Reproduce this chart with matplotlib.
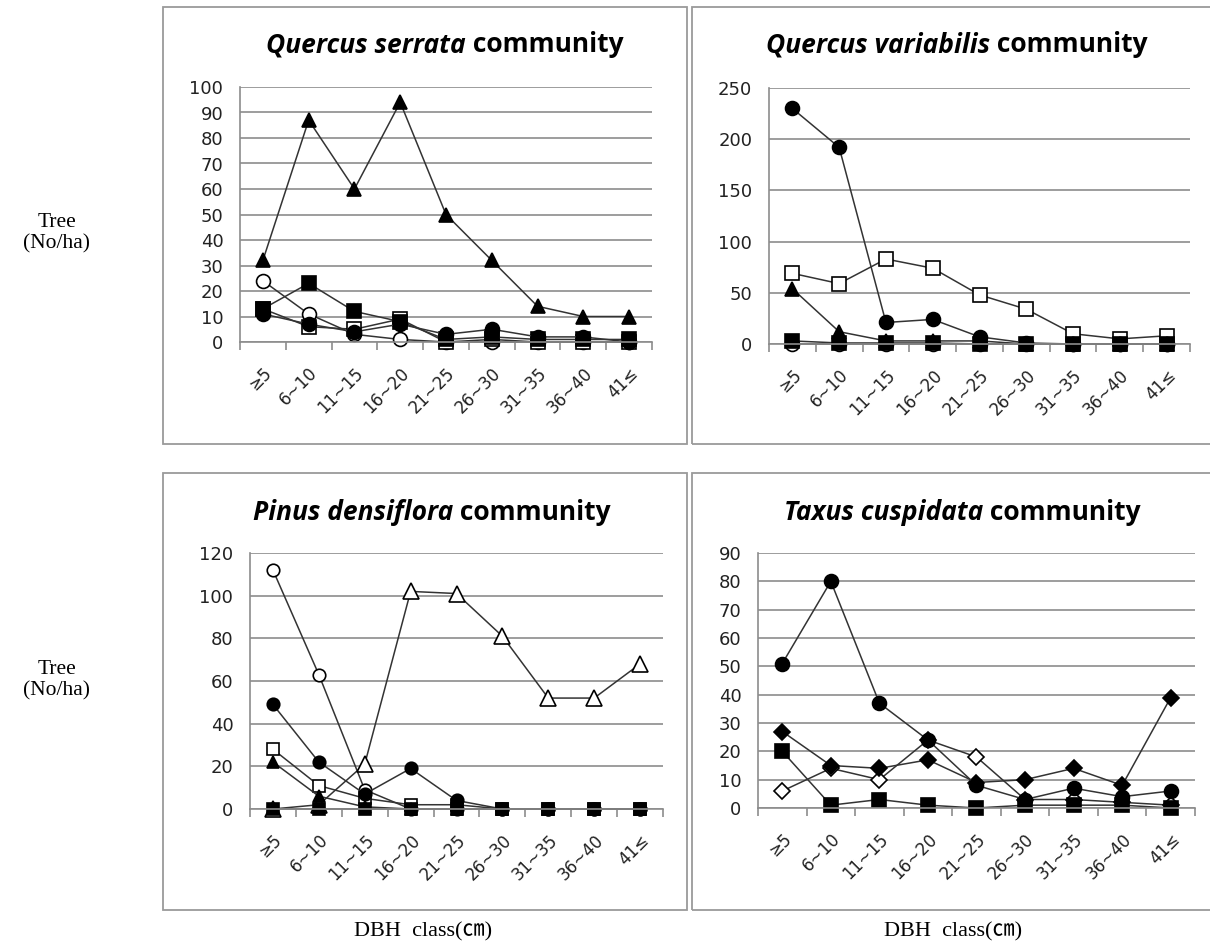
import matplotlib.pyplot as plt
from matplotlib.patches import Rectangle

classes = ['≥5', '6~10', '11~15', '16~20', '21~25', '26~30', '31~35', '36~40', '41≤']

# Quercus serrata community
qs_tri_fill = [32, 87, 60, 94, 50, 32, 14, 10, 10]
qs_circ_open = [24, 11, 3, 1, 0, 0, 0, 0, 0]
qs_sq_open = [13, 6, 5, 9, 0, 1, 0, 0, 0]
qs_sq_fill = [13, 23, 12, 8, 1, 2, 1, 1, 1]
qs_circ_fill = [11, 7, 4, 7, 3, 5, 2, 2, 0]

# Quercus variabilis community
qv_circ_open = [0, 0, 0, 0, 0, 0, 0, 0, 0]
qv_sq_open = [69, 59, 83, 74, 48, 34, 10, 5, 8]
qv_tri_fill = [54, 12, 3, 3, 3, 0, 0, 0, 0]
qv_sq_fill = [3, 1, 1, 1, 0, 0, 0, 0, 0]
qv_circ_fill = [230, 192, 21, 24, 7, 1, 0, 0, 0]

# Pinus densiflora community
pd_circ_open = [112, 63, 9, 0, 0, 0, 0, 0, 0]
pd_tri_open = [0, 2, 21, 102, 101, 81, 52, 52, 68]
pd_sq_open = [28, 11, 5, 2, 2, 0, 0, 0, 0]
pd_tri_fill = [22, 6, 1, 0, 0, 0, 0, 0, 0]
pd_circ_fill = [49, 22, 7, 19, 4, 0, 0, 0, 0]
pd_sq_fill = [0, 0, 0, 0, 0, 0, 0, 0, 0]

# Taxus cuspidata community
tc_dia_open = [6, 14, 10, 24, 18, 3, 3, 2, 1]
tc_dia_fill = [27, 15, 14, 17, 9, 10, 14, 8, 39]
tc_sq_fill = [20, 1, 3, 1, 0, 1, 1, 1, 0]
tc_circ_fill = [51, 80, 37, 24, 8, 3, 7, 4, 6]

x = list(range(1, len(classes) + 1))
LINE = '#333333'
GRID = '#8c8c8c'
W, H = 1210, 947

fig = plt.figure(figsize=(12.1, 9.47), dpi=100)
renderer = fig.canvas.get_renderer()

# gray boxes round each chart (Excel chart area)
for (x0, y0, x1, y1) in [(163, 7, 687, 444), (692, 7, 1215, 444),
                         (163, 473, 687, 910), (692, 473, 1215, 910)]:
    fig.add_artist(Rectangle((x0 / W, 1 - y1 / H), (x1 - x0) / W, (y1 - y0) / H,
                             transform=fig.transFigure, fill=False, edgecolor='#9a9a9a', lw=1.3))


def title(species, cx, cy):
    # italic species name + plain " community", centred together
    t1 = fig.text(0, 1 - cy / H, species, ha='left', va='center', fontsize=19,
                  fontweight='bold', style='italic', family='Open Sans')
    t2 = fig.text(0, 1 - cy / H, ' community', ha='left', va='center', fontsize=19,
                  fontweight='bold', family='Open Sans')
    w1 = t1.get_window_extent(renderer).width
    w2 = t2.get_window_extent(renderer).width
    left = cx - (w1 + w2) / 2
    t1.set_x(left / W)
    t2.set_x((left + w1) / W)


def series(ax, vals, marker, filled, ms=10):
    ax.plot(x, vals, color=LINE, lw=1.1, marker=marker, ms=ms,
            markerfacecolor='black' if filled else 'white',
            markeredgecolor='black', markeredgewidth=1.2, clip_on=False)


def setup(ax, top, step):
    ax.set_xlim(0.5, 9.5)
    ax.set_ylim(0, top)
    ax.set_yticks(range(0, top + 1, step))
    ax.yaxis.grid(True, color=GRID, lw=1.2)
    ax.set_axisbelow(True)
    for s in ['top', 'right']:
        ax.spines[s].set_visible(False)
    for s in ['left', 'bottom']:
        ax.spines[s].set_color(GRID)
        ax.spines[s].set_linewidth(1.2)
    ax.set_xticks(x)
    ax.set_xticklabels(classes, rotation=45, ha='right', va='top', rotation_mode='anchor',
                       fontsize=12, color='#222222')
    ax.set_xticks([i + 0.5 for i in range(0, 10)], minor=True)
    ax.tick_params(axis='x', which='major', length=0, pad=16)
    ax.tick_params(axis='x', which='minor', length=6, color=GRID, width=1.2)
    ax.tick_params(axis='y', length=0, pad=12, labelsize=13, labelcolor='#222222')


ax1 = fig.add_axes([240 / W, 1 - 342 / H, 412 / W, 255 / H])
setup(ax1, 100, 10)
title('Quercus serrata', 445, 45)
series(ax1, qs_tri_fill, '^', True)
series(ax1, qs_circ_open, 'o', False)
series(ax1, qs_sq_open, 's', False)
series(ax1, qs_sq_fill, 's', True)
series(ax1, qs_circ_fill, 'o', True)

ax2 = fig.add_axes([769 / W, 1 - 344 / H, 421 / W, 256 / H])
setup(ax2, 250, 50)
title('Quercus variabilis', 957, 45)
series(ax2, qv_circ_open, 'o', False)
series(ax2, qv_sq_open, 's', False)
series(ax2, qv_tri_fill, '^', True)
series(ax2, qv_sq_fill, 's', True)
series(ax2, qv_circ_fill, 'o', True)

ax3 = fig.add_axes([250 / W, 1 - 809 / H, 413 / W, 256 / H])
setup(ax3, 120, 20)
title('Pinus densiflora', 432, 513)
series(ax3, pd_circ_open, 'o', False, 9)
series(ax3, pd_tri_open, '^', False, 11)
series(ax3, pd_sq_open, 's', False, 9)
series(ax3, pd_tri_fill, '^', True, 9)
series(ax3, pd_circ_fill, 'o', True, 9)
series(ax3, pd_sq_fill, 's', True, 9)

ax4 = fig.add_axes([758 / W, 1 - 808 / H, 437 / W, 255 / H])
setup(ax4, 90, 10)
title('Taxus cuspidata', 962, 513)
series(ax4, tc_dia_open, 'D', False, 8)
series(ax4, tc_dia_fill, 'D', True, 8)
series(ax4, tc_sq_fill, 's', True, 10)
series(ax4, tc_circ_fill, 'o', True, 10)

# side and bottom labels
for cy in [233, 680]:
    fig.text(57 / W, 1 - cy / H, 'Tree\n(No/ha)', ha='center', va='center',
             fontsize=15.5, family='Liberation Serif', linespacing=1.15)
for cx in [423, 953]:
    fig.text(cx / W, 1 - 932 / H, 'DBH  class(㎝)', ha='center', va='center',
             fontsize=16, family=['Liberation Serif', 'Noto Sans CJK KR'])

fig.savefig('out.png', dpi=100)
